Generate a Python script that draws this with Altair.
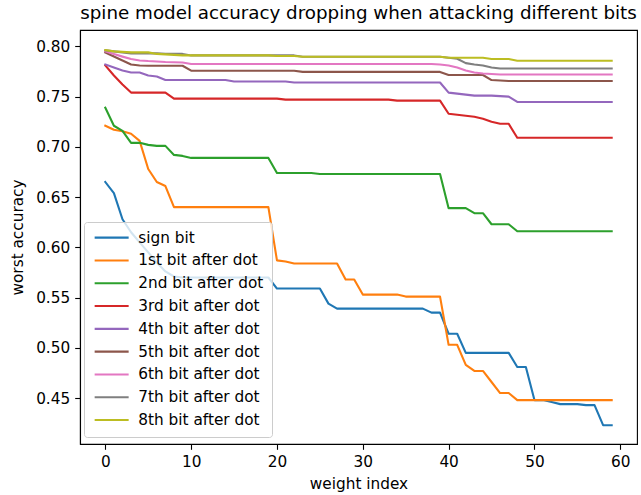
import altair as alt
import pandas as pd

x_index = list(range(60))

series_names = [
    "sign bit", "1st bit after dot", "2nd bit after dot", "3rd bit after dot",
    "4th bit after dot", "5th bit after dot", "6th bit after dot",
    "7th bit after dot", "8th bit after dot",
]
series_colors = ["#1f77b4", "#ff7f0e", "#2ca02c", "#d62728", "#9467bd",
                 "#8c564b", "#e377c2", "#7f7f7f", "#bcbd22"]

sign_bit = [0.665, 0.654, 0.628, 0.615, 0.605, 0.595, 0.585, 0.576, 0.571, 0.570,
            0.570, 0.570, 0.570, 0.570, 0.570, 0.570, 0.570, 0.570, 0.570, 0.570,
            0.559, 0.559, 0.559, 0.559, 0.559, 0.559, 0.544, 0.539, 0.539, 0.539,
            0.539, 0.539, 0.539, 0.539, 0.539, 0.539, 0.539, 0.539, 0.535, 0.535,
            0.514, 0.514, 0.495, 0.495, 0.495, 0.495, 0.495, 0.495, 0.481, 0.481,
            0.448, 0.448, 0.446, 0.444, 0.444, 0.444, 0.443, 0.443, 0.423, 0.423]
bit1 = [0.721, 0.717, 0.7155, 0.713, 0.706, 0.678, 0.665, 0.661, 0.640, 0.640,
        0.640, 0.640, 0.640, 0.640, 0.640, 0.640, 0.640, 0.640, 0.640, 0.640,
        0.587, 0.586, 0.584, 0.584, 0.584, 0.584, 0.584, 0.584, 0.568, 0.568,
        0.553, 0.553, 0.553, 0.553, 0.553, 0.551, 0.551, 0.551, 0.551, 0.551,
        0.503, 0.503, 0.483, 0.477, 0.477, 0.466, 0.455, 0.455, 0.448, 0.448,
        0.448, 0.448, 0.448, 0.448, 0.448, 0.448, 0.448, 0.448, 0.448, 0.448]
bit2 = [0.739, 0.721, 0.716, 0.704, 0.704, 0.702, 0.701, 0.701, 0.692, 0.691,
        0.689, 0.689, 0.689, 0.689, 0.689, 0.689, 0.689, 0.689, 0.689, 0.689,
        0.674, 0.674, 0.674, 0.674, 0.674, 0.673, 0.673, 0.673, 0.673, 0.673,
        0.673, 0.673, 0.673, 0.673, 0.673, 0.673, 0.673, 0.673, 0.673, 0.673,
        0.639, 0.639, 0.639, 0.634, 0.634, 0.623, 0.623, 0.623, 0.616, 0.616,
        0.616, 0.616, 0.616, 0.616, 0.616, 0.616, 0.616, 0.616, 0.616, 0.616]
bit3 = [0.781, 0.771, 0.762, 0.754, 0.754, 0.754, 0.754, 0.754, 0.748, 0.748,
        0.748, 0.748, 0.748, 0.748, 0.748, 0.748, 0.748, 0.748, 0.748, 0.748,
        0.748, 0.747, 0.747, 0.747, 0.747, 0.747, 0.747, 0.747, 0.747, 0.747,
        0.747, 0.747, 0.747, 0.747, 0.746, 0.746, 0.746, 0.746, 0.746, 0.746,
        0.733, 0.732, 0.731, 0.730, 0.728, 0.725, 0.723, 0.723, 0.709, 0.709,
        0.709, 0.709, 0.709, 0.709, 0.709, 0.709, 0.709, 0.709, 0.709, 0.709]
bit4 = [0.782, 0.779, 0.776, 0.774, 0.774, 0.771, 0.770, 0.7665, 0.7665, 0.7665,
        0.7665, 0.7665, 0.7665, 0.7665, 0.7665, 0.765, 0.765, 0.765, 0.765, 0.765,
        0.765, 0.765, 0.764, 0.764, 0.764, 0.764, 0.764, 0.764, 0.764, 0.764,
        0.764, 0.764, 0.764, 0.764, 0.764, 0.764, 0.764, 0.764, 0.764, 0.764,
        0.754, 0.753, 0.752, 0.751, 0.751, 0.751, 0.7505, 0.750, 0.7447, 0.7447,
        0.7447, 0.7447, 0.7447, 0.7447, 0.7447, 0.7447, 0.7447, 0.7447, 0.7447, 0.7447]
bit5 = [0.794, 0.790, 0.786, 0.782, 0.781, 0.7807, 0.7807, 0.7807, 0.7807, 0.7807,
        0.7758, 0.7758, 0.7758, 0.7758, 0.7758, 0.7758, 0.7758, 0.7758, 0.7758, 0.7758,
        0.7758, 0.7758, 0.7758, 0.7746, 0.7746, 0.7746, 0.7746, 0.7746, 0.7746, 0.7746,
        0.7746, 0.7746, 0.7746, 0.7746, 0.7746, 0.7746, 0.7746, 0.7746, 0.7746, 0.7746,
        0.7715, 0.7715, 0.7715, 0.7715, 0.7715, 0.7665, 0.766, 0.7655, 0.7655, 0.7655,
        0.7655, 0.7655, 0.7655, 0.7655, 0.7655, 0.7655, 0.7655, 0.7655, 0.7655, 0.7655]
bit6 = [0.7950, 0.7923, 0.7898, 0.7874, 0.786, 0.7854, 0.785, 0.7845, 0.7842, 0.784,
        0.7824, 0.7824, 0.7824, 0.7824, 0.7824, 0.7824, 0.7824, 0.7824, 0.7824, 0.7824,
        0.7824, 0.7824, 0.7824, 0.7824, 0.7824, 0.7824, 0.7824, 0.7824, 0.7824, 0.7824,
        0.7824, 0.7824, 0.7824, 0.7824, 0.7824, 0.7824, 0.7824, 0.7824, 0.7824, 0.782,
        0.781, 0.779, 0.776, 0.774, 0.773, 0.7725, 0.772, 0.772, 0.772, 0.772,
        0.772, 0.772, 0.772, 0.772, 0.772, 0.772, 0.772, 0.772, 0.772, 0.772]
bit7 = [0.796, 0.795, 0.794, 0.793, 0.793, 0.793, 0.793, 0.7925, 0.7925, 0.7925,
        0.791, 0.791, 0.791, 0.791, 0.791, 0.791, 0.791, 0.791, 0.791, 0.791,
        0.791, 0.791, 0.791, 0.7897, 0.7897, 0.7897, 0.7897, 0.7897, 0.7897, 0.7897,
        0.7897, 0.7897, 0.7897, 0.7897, 0.7897, 0.7897, 0.7897, 0.7897, 0.7897, 0.7897,
        0.7887, 0.7877, 0.7833, 0.782, 0.781, 0.779, 0.778, 0.778, 0.778, 0.778,
        0.778, 0.778, 0.778, 0.778, 0.778, 0.778, 0.778, 0.778, 0.778, 0.778]
bit8 = [0.7963, 0.795, 0.7945, 0.794, 0.794, 0.794, 0.7925, 0.792, 0.7915, 0.791,
        0.791, 0.791, 0.791, 0.791, 0.791, 0.791, 0.791, 0.791, 0.791, 0.791,
        0.7905, 0.7905, 0.7905, 0.7897, 0.7897, 0.7897, 0.7897, 0.7897, 0.7897, 0.7897,
        0.7897, 0.7897, 0.7897, 0.7897, 0.7897, 0.7897, 0.7897, 0.7897, 0.7897, 0.7897,
        0.7887, 0.7887, 0.7887, 0.7887, 0.7887, 0.7874, 0.7874, 0.7874, 0.7857, 0.7857,
        0.7857, 0.7857, 0.7857, 0.7857, 0.7857, 0.7857, 0.7857, 0.7857, 0.7857, 0.7857]

all_series = [sign_bit, bit1, bit2, bit3, bit4, bit5, bit6, bit7, bit8]

rows = []
for k, (name, vals) in enumerate(zip(series_names, all_series)):
    for i, v in zip(x_index, vals):
        rows.append({"series": name, "order": k, "weight index": i, "worst accuracy": v})
df = pd.DataFrame(rows)

FONT = "DejaVu Sans"
FS = 15.3

chart = alt.Chart(df).mark_line(strokeWidth=2.1, strokeCap="square", strokeJoin="round").encode(
    x=alt.X("weight index:Q",
            scale=alt.Scale(domain=[-2.95, 61.95], nice=False, zero=False),
            axis=alt.Axis(values=[0, 10, 20, 30, 40, 50, 60], title="weight index",
                          titlePadding=7)),
    y=alt.Y("worst accuracy:Q",
            scale=alt.Scale(domain=[0.4043, 0.8163], nice=False, zero=False),
            axis=alt.Axis(values=[0.45, 0.50, 0.55, 0.60, 0.65, 0.70, 0.75, 0.80],
                          format=".2f", title="worst accuracy", titlePadding=10)),
    color=alt.Color("series:N",
                    scale=alt.Scale(domain=series_names, range=series_colors),
                    sort=series_names,
                    legend=alt.Legend(
                        title=None, orient="none", legendX=4, legendY=192,
                        direction="vertical", padding=8,
                        fillColor="rgba(255,255,255,0.8)", strokeColor="#cccccc",
                        cornerRadius=3,
                        symbolType="M-1,0H5.8", symbolSize=100, symbolStrokeWidth=2.1,
                        labelFont=FONT, labelFontSize=FS, labelColor="black",
                        labelOffset=31, rowPadding=6.8, labelLimit=400,
                    )),
    detail="order:O",
).properties(
    width=557, height=414,
    title=alt.TitleParams("spine model accuracy dropping when attacking different bits",
                          font=FONT, fontSize=18.3, fontWeight="normal", color="black",
                          anchor="middle", offset=7),
).configure(
    autosize=alt.AutoSizeParams(type="none"),
    padding={"left": 80, "top": 30, "right": 4, "bottom": 51},
    background="white",
).configure_view(
    stroke="black", strokeWidth=1.1,
).configure_axis(
    grid=False, domainColor="black", domainWidth=1.1, tickColor="black", tickWidth=1.1,
    tickSize=5.3, labelPadding=5, labelFont=FONT, labelFontSize=FS, labelColor="black",
    titleFont=FONT, titleFontSize=FS, titleFontWeight="normal", titleColor="black",
)

chart.save("out.html", embed_options={"renderer": "svg", "actions": False})
